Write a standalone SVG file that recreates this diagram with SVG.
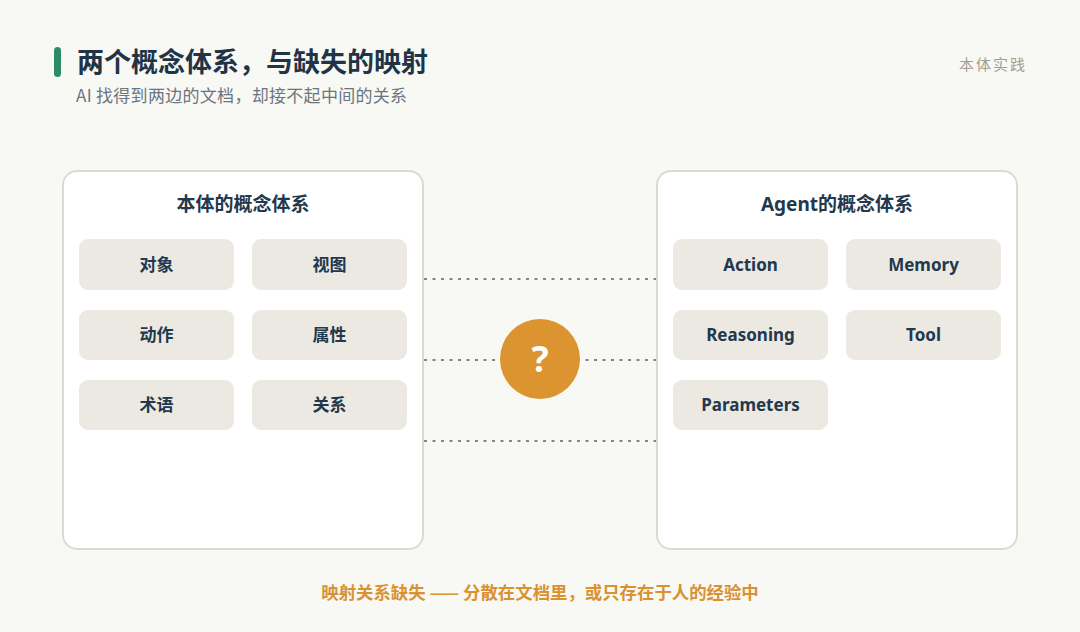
<svg xmlns="http://www.w3.org/2000/svg" width="1080" height="632" viewBox="0 0 1080 632">
  <style>
    .cjk { font-family: "Noto Sans CJK SC", "Noto Sans", sans-serif; }
    .panel { fill: #ffffff; stroke: #dedad1; stroke-width: 2; }
    .chip { fill: #ece9e3; }
    .chiptext { font-family: "Noto Sans", "Noto Sans CJK SC", sans-serif; font-size: 17px; font-weight: 700; fill: #22384c; text-anchor: middle; }
    .ptitle { font-family: "Noto Sans", "Noto Sans CJK SC", sans-serif; font-size: 19px; font-weight: 700; fill: #22384c; text-anchor: middle; }
    .dash { stroke: #7c8590; stroke-width: 2; stroke-dasharray: 3 5.5; fill: none; }
  </style>
  <rect x="0" y="0" width="1080" height="632" fill="#f8f8f4"/>

  <g id="header">
    <rect x="54" y="47" width="7" height="30" rx="3.5" fill="#2e8b6a"/>
    <text x="77" y="72" class="cjk" font-size="27" font-weight="700" fill="#1f3447">两个概念体系，与缺失的映射</text>
    <text x="76" y="102" class="cjk" font-size="17" letter-spacing="0.3" fill="#6b7580">AI 找得到两边的文档，却接不起中间的关系</text>
    <text x="1027" y="70" class="cjk" font-size="15" letter-spacing="2" fill="#a39e94" text-anchor="end">本体实践</text>
  </g>

  <g id="connectors">
    <line class="dash" x1="424" y1="279" x2="656" y2="279"/>
    <line class="dash" x1="424" y1="360" x2="656" y2="360"/>
    <line class="dash" x1="424" y1="441" x2="656" y2="441"/>
  </g>

  <g id="ontology-panel">
    <rect class="panel" x="63" y="171" width="360" height="378" rx="14"/>
    <text class="ptitle" x="243" y="211">本体的概念体系</text>
  </g>
  <g id="node-duixiang"><rect class="chip" x="79" y="239" width="155" height="51" rx="9"/><text class="chiptext" x="156.5" y="271">对象</text></g>
  <g id="node-shitu"><rect class="chip" x="252" y="239" width="155" height="51" rx="9"/><text class="chiptext" x="329.5" y="271">视图</text></g>
  <g id="node-dongzuo"><rect class="chip" x="79" y="310" width="155" height="50" rx="9"/><text class="chiptext" x="156.5" y="341">动作</text></g>
  <g id="node-shuxing"><rect class="chip" x="252" y="310" width="155" height="50" rx="9"/><text class="chiptext" x="329.5" y="341">属性</text></g>
  <g id="node-shuyu"><rect class="chip" x="79" y="380" width="155" height="50" rx="9"/><text class="chiptext" x="156.5" y="411">术语</text></g>
  <g id="node-guanxi"><rect class="chip" x="252" y="380" width="155" height="50" rx="9"/><text class="chiptext" x="329.5" y="411">关系</text></g>

  <g id="agent-panel">
    <rect class="panel" x="657" y="171" width="360" height="378" rx="14"/>
    <text class="ptitle" x="837" y="211">Agent的概念体系</text>
  </g>
  <g id="node-action"><rect class="chip" x="673" y="239" width="155" height="51" rx="9"/><text class="chiptext" x="750.5" y="271">Action</text></g>
  <g id="node-memory"><rect class="chip" x="846" y="239" width="155" height="51" rx="9"/><text class="chiptext" x="923.5" y="271">Memory</text></g>
  <g id="node-reasoning"><rect class="chip" x="673" y="310" width="155" height="50" rx="9"/><text class="chiptext" x="750.5" y="341">Reasoning</text></g>
  <g id="node-tool"><rect class="chip" x="846" y="310" width="155" height="50" rx="9"/><text class="chiptext" x="923.5" y="341">Tool</text></g>
  <g id="node-parameters"><rect class="chip" x="673" y="380" width="155" height="50" rx="9"/><text class="chiptext" x="750.5" y="411">Parameters</text></g>

  <g id="node-question">
    <circle cx="540" cy="359" r="40" fill="#db9430"/>
    <text x="540" y="372" font-family="Noto Sans, sans-serif" font-size="36" font-weight="700" fill="#ffffff" text-anchor="middle">?</text>
  </g>

  <g id="footer">
    <text x="540" y="599" class="cjk" font-size="17.4" font-weight="700" fill="#d9922f" text-anchor="middle">映射关系缺失 —— 分散在文档里，或只存在于人的经验中</text>
  </g>
</svg>
